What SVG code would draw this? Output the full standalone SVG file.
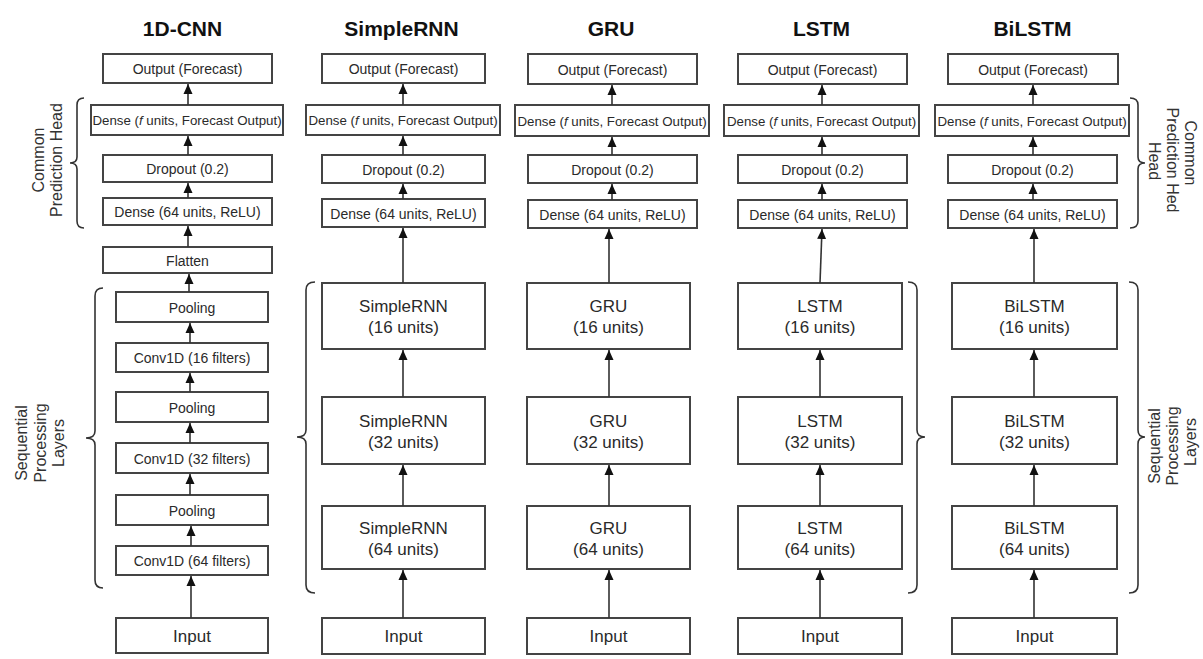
<svg xmlns="http://www.w3.org/2000/svg" width="1203" height="659" viewBox="0 0 1203 659">
<style>
text{font-family:"Liberation Sans",Arial,sans-serif;fill:#2a2a2a}
.title{font-size:21px;font-weight:bold;fill:#111;text-anchor:middle}
.s{font-size:14px;text-anchor:middle}
.df{font-size:13.3px;text-anchor:middle}
.b{font-size:17px;text-anchor:middle}
.lab{font-size:16px;text-anchor:middle;fill:#333}
rect{fill:#fff;stroke:#444;stroke-width:2}
.conn line{stroke:#333;stroke-width:1.6;marker-end:url(#ah)}
.br{fill:none;stroke:#333;stroke-width:1.6}
</style>
<defs>
<marker id="ah" markerUnits="userSpaceOnUse" markerWidth="10" markerHeight="10" refX="10" refY="5" orient="auto">
<path d="M0,0.5 L10,5 L0,9.5 z" fill="#111"/>
</marker>
</defs>
<rect x="0" y="0" width="1203" height="659" style="fill:#fff;stroke:none"/>

<!-- titles -->
<text class="title" x="182.5" y="36">1D-CNN</text>
<text class="title" x="401.5" y="36">SimpleRNN</text>
<text class="title" x="611" y="36">GRU</text>
<text class="title" x="821.5" y="36">LSTM</text>
<text class="title" x="1032.5" y="36">BiLSTM</text>

<!-- 1D-CNN column -->
<g id="cnn-output"><rect x="103" y="54" width="169" height="29"/><text class="s" x="187.5" y="74">Output (Forecast)</text></g>
<g id="cnn-densef"><rect x="91" y="105" width="192" height="30"/><text class="df" x="187" y="125">Dense (<tspan font-style="italic">f</tspan> units, Forecast Output)</text></g>
<g id="cnn-dropout"><rect x="103" y="155" width="169" height="27"/><text class="s" x="187.5" y="174">Dropout (0.2)</text></g>
<g id="cnn-dense64"><rect x="103" y="198" width="169" height="27"/><text class="s" x="187.5" y="217">Dense (64 units, ReLU)</text></g>
<g id="cnn-flatten"><rect x="103" y="247" width="169" height="26"/><text class="s" x="187.5" y="265.5">Flatten</text></g>
<g id="cnn-pool1"><rect x="116" y="292" width="152" height="30"/><text class="s" x="192" y="312.5">Pooling</text></g>
<g id="cnn-conv16"><rect x="116" y="343" width="152" height="29"/><text class="s" x="192" y="363">Conv1D (16 filters)</text></g>
<g id="cnn-pool2"><rect x="116" y="392" width="152" height="30"/><text class="s" x="192" y="412.5">Pooling</text></g>
<g id="cnn-conv32"><rect x="116" y="443" width="152" height="30"/><text class="s" x="192" y="463.5">Conv1D (32 filters)</text></g>
<g id="cnn-pool3"><rect x="116" y="495" width="152" height="30"/><text class="s" x="192" y="515.5">Pooling</text></g>
<g id="cnn-conv64"><rect x="116" y="546" width="152" height="29"/><text class="s" x="192" y="566">Conv1D (64 filters)</text></g>
<g id="cnn-input"><rect x="116" y="618" width="152" height="35"/><text class="b" x="192" y="641.5">Input</text></g>

<!-- SimpleRNN column -->
<g id="rnn-output"><rect x="322" y="54" width="163" height="29"/><text class="s" x="403.5" y="74">Output (Forecast)</text></g>
<g id="rnn-densef"><rect x="306" y="105" width="194" height="30"/><text class="df" x="403" y="125">Dense (<tspan font-style="italic">f</tspan> units, Forecast Output)</text></g>
<g id="rnn-dropout"><rect x="322" y="155" width="163" height="28"/><text class="s" x="403.5" y="174.5">Dropout (0.2)</text></g>
<g id="rnn-dense64"><rect x="322" y="199" width="163" height="28"/><text class="s" x="403.5" y="218.5">Dense (64 units, ReLU)</text></g>
<g id="rnn-16"><rect x="322" y="283" width="163" height="66"/><text class="b" x="403.5" y="312">SimpleRNN</text><text class="b" x="403.5" y="333">(16 units)</text></g>
<g id="rnn-32"><rect x="322" y="397" width="163" height="67"/><text class="b" x="403.5" y="427">SimpleRNN</text><text class="b" x="403.5" y="448">(32 units)</text></g>
<g id="rnn-64"><rect x="322" y="506" width="163" height="63"/><text class="b" x="403.5" y="534">SimpleRNN</text><text class="b" x="403.5" y="555">(64 units)</text></g>
<g id="rnn-input"><rect x="322" y="618" width="163" height="36"/><text class="b" x="403.5" y="642">Input</text></g>

<!-- GRU column -->
<g id="gru-output"><rect x="528" y="54" width="169" height="30"/><text class="s" x="612.5" y="74.5">Output (Forecast)</text></g>
<g id="gru-densef"><rect x="515" y="105" width="194" height="31"/><text class="df" x="612" y="125.5">Dense (<tspan font-style="italic">f</tspan> units, Forecast Output)</text></g>
<g id="gru-dropout"><rect x="528" y="155" width="169" height="28"/><text class="s" x="612.5" y="174.5">Dropout (0.2)</text></g>
<g id="gru-dense64"><rect x="528" y="200" width="169" height="28"/><text class="s" x="612.5" y="219.5">Dense (64 units, ReLU)</text></g>
<g id="gru-16"><rect x="527" y="283" width="163" height="66"/><text class="b" x="608.5" y="312">GRU</text><text class="b" x="608.5" y="333">(16 units)</text></g>
<g id="gru-32"><rect x="527" y="397" width="163" height="67"/><text class="b" x="608.5" y="427">GRU</text><text class="b" x="608.5" y="448">(32 units)</text></g>
<g id="gru-64"><rect x="527" y="506" width="163" height="63"/><text class="b" x="608.5" y="534">GRU</text><text class="b" x="608.5" y="555">(64 units)</text></g>
<g id="gru-input"><rect x="527" y="618" width="163" height="36"/><text class="b" x="608.5" y="642">Input</text></g>

<!-- LSTM column -->
<g id="lstm-output"><rect x="738" y="54" width="169" height="30"/><text class="s" x="822.5" y="74.5">Output (Forecast)</text></g>
<g id="lstm-densef"><rect x="724" y="105" width="195" height="31"/><text class="df" x="821.5" y="125.5">Dense (<tspan font-style="italic">f</tspan> units, Forecast Output)</text></g>
<g id="lstm-dropout"><rect x="738" y="155" width="169" height="28"/><text class="s" x="822.5" y="174.5">Dropout (0.2)</text></g>
<g id="lstm-dense64"><rect x="738" y="200" width="169" height="28"/><text class="s" x="822.5" y="219.5">Dense (64 units, ReLU)</text></g>
<g id="lstm-16"><rect x="738" y="283" width="164" height="66"/><text class="b" x="820" y="312">LSTM</text><text class="b" x="820" y="333">(16 units)</text></g>
<g id="lstm-32"><rect x="738" y="397" width="164" height="67"/><text class="b" x="820" y="427">LSTM</text><text class="b" x="820" y="448">(32 units)</text></g>
<g id="lstm-64"><rect x="738" y="506" width="164" height="63"/><text class="b" x="820" y="534">LSTM</text><text class="b" x="820" y="555">(64 units)</text></g>
<g id="lstm-input"><rect x="738" y="618" width="164" height="36"/><text class="b" x="820" y="642">Input</text></g>

<!-- BiLSTM column -->
<g id="bilstm-output"><rect x="948" y="54" width="170" height="30"/><text class="s" x="1033" y="74.5">Output (Forecast)</text></g>
<g id="bilstm-densef"><rect x="935" y="105" width="194" height="31"/><text class="df" x="1032" y="125.5">Dense (<tspan font-style="italic">f</tspan> units, Forecast Output)</text></g>
<g id="bilstm-dropout"><rect x="948" y="155" width="169" height="28"/><text class="s" x="1032.5" y="174.5">Dropout (0.2)</text></g>
<g id="bilstm-dense64"><rect x="948" y="200" width="169" height="28"/><text class="s" x="1032.5" y="219.5">Dense (64 units, ReLU)</text></g>
<g id="bilstm-16"><rect x="952" y="283" width="165" height="66"/><text class="b" x="1034.5" y="312">BiLSTM</text><text class="b" x="1034.5" y="333">(16 units)</text></g>
<g id="bilstm-32"><rect x="952" y="397" width="165" height="67"/><text class="b" x="1034.5" y="427">BiLSTM</text><text class="b" x="1034.5" y="448">(32 units)</text></g>
<g id="bilstm-64"><rect x="952" y="506" width="165" height="63"/><text class="b" x="1034.5" y="534">BiLSTM</text><text class="b" x="1034.5" y="555">(64 units)</text></g>
<g id="bilstm-input"><rect x="952" y="618" width="165" height="36"/><text class="b" x="1034.5" y="642">Input</text></g>

<!-- connectors -->
<g class="conn" id="connectors">
<line x1="188" y1="105" x2="188" y2="84"/>
<line x1="188" y1="155" x2="188" y2="136"/>
<line x1="188" y1="198" x2="188" y2="183"/>
<line x1="188" y1="247" x2="188" y2="226"/>
<line x1="189" y1="292" x2="189" y2="274"/>
<line x1="190" y1="343" x2="190" y2="323"/>
<line x1="190" y1="392" x2="190" y2="373"/>
<line x1="190" y1="443" x2="190" y2="423"/>
<line x1="190" y1="495" x2="190" y2="474"/>
<line x1="191" y1="546" x2="191" y2="526"/>
<line x1="191" y1="618" x2="191" y2="576"/>

<line x1="403" y1="105" x2="403" y2="84"/>
<line x1="403" y1="155" x2="403" y2="136"/>
<line x1="403" y1="199" x2="403" y2="184"/>
<line x1="403" y1="283" x2="403" y2="228"/>
<line x1="403" y1="397" x2="403" y2="350"/>
<line x1="403" y1="506" x2="403" y2="465"/>
<line x1="403" y1="618" x2="403" y2="570"/>

<line x1="612" y1="105" x2="612" y2="85"/>
<line x1="612" y1="155" x2="612" y2="137"/>
<line x1="612" y1="200" x2="612" y2="184"/>
<line x1="609" y1="283" x2="609" y2="229"/>
<line x1="609" y1="397" x2="609" y2="350"/>
<line x1="609" y1="506" x2="609" y2="465"/>
<line x1="609" y1="618" x2="609" y2="570"/>

<line x1="822" y1="105" x2="822" y2="85"/>
<line x1="822" y1="155" x2="822" y2="137"/>
<line x1="822" y1="200" x2="822" y2="184"/>
<line x1="820" y1="283" x2="822" y2="229"/>
<line x1="820" y1="397" x2="820" y2="350"/>
<line x1="820" y1="506" x2="820" y2="465"/>
<line x1="820" y1="618" x2="820" y2="570"/>

<line x1="1033" y1="105" x2="1033" y2="85"/>
<line x1="1033" y1="155" x2="1033" y2="137"/>
<line x1="1033" y1="200" x2="1033" y2="184"/>
<line x1="1034" y1="283" x2="1034" y2="229"/>
<line x1="1034" y1="397" x2="1034" y2="350"/>
<line x1="1034" y1="506" x2="1034" y2="465"/>
<line x1="1034" y1="618" x2="1034" y2="570"/>
</g>

<!-- braces -->
<g id="braces">
<path class="br" d="M84,98 Q77,98 77,105 L77,157 Q77,163 70,163 Q77,163 77,169 L77,221 Q77,228 84,228"/>
<path class="br" d="M103,288 Q95,288 95,296 L95,431 Q95,438 86,438 Q95,438 95,445 L95,580 Q95,588 103,588"/>
<path class="br" d="M315,282 Q306,282 306,290 L306,430 Q306,437 297,437 Q306,437 306,444 L306,585 Q306,593 315,593"/>
<path class="br" d="M908,282 Q917,282 917,290 L917,430 Q917,437 925,437 Q917,437 917,444 L917,585 Q917,593 908,593"/>
<path class="br" d="M1130,98 Q1138,98 1138,105 L1138,157 Q1138,163 1145,163 Q1138,163 1138,169 L1138,221 Q1138,228 1130,228"/>
<path class="br" d="M1129,282 Q1138,282 1138,290 L1138,430 Q1138,437 1145,437 Q1138,437 1138,444 L1138,585 Q1138,593 1129,593"/>
</g>

<!-- side labels -->
<g id="labels">
<text class="lab" transform="translate(44,160) rotate(-90)">Common</text>
<text class="lab" transform="translate(62,160) rotate(-90)">Prediction Head</text>
<text class="lab" transform="translate(27,443) rotate(-90)">Sequential</text>
<text class="lab" transform="translate(46,443) rotate(-90)">Processing</text>
<text class="lab" transform="translate(64,443) rotate(-90)">Layers</text>
<text class="lab" transform="translate(1185,153) rotate(90)">Common</text>
<text class="lab" transform="translate(1167,160) rotate(90)">Prediction Hed</text>
<text class="lab" transform="translate(1149,161) rotate(90)">Head</text>
<text class="lab" transform="translate(1160,446) rotate(-90)">Sequential</text>
<text class="lab" transform="translate(1178,446) rotate(-90)">Processing</text>
<text class="lab" transform="translate(1196,442) rotate(-90)">Layers</text>
</g>
</svg>
